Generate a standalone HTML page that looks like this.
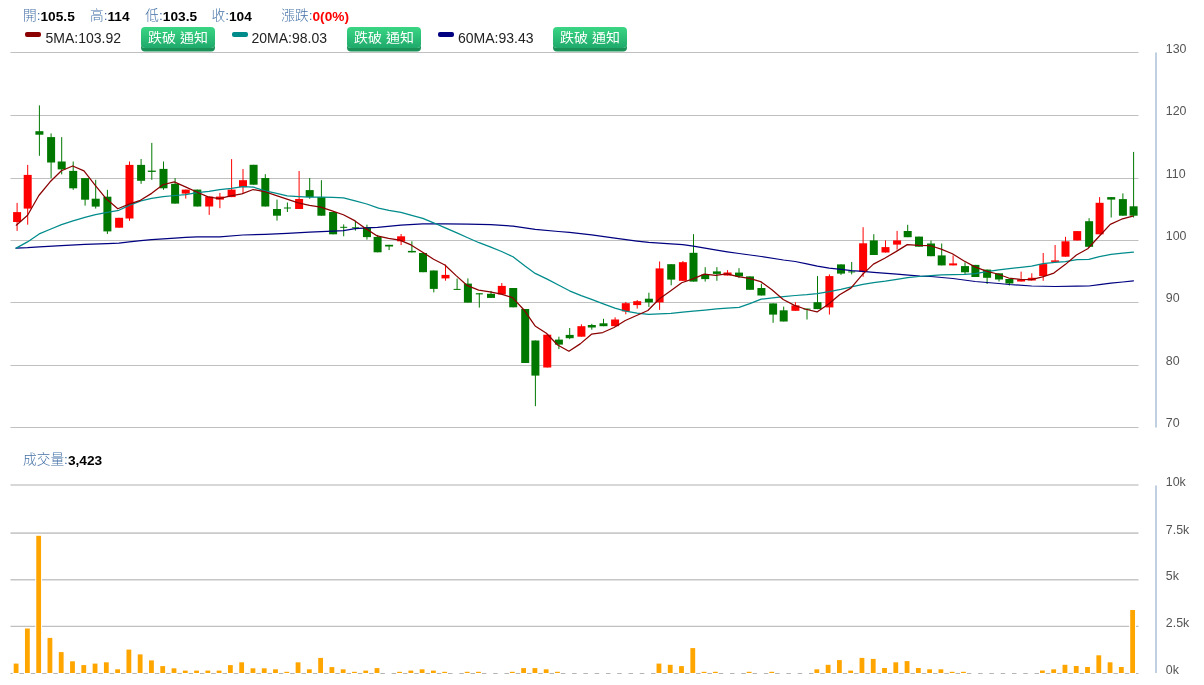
<!DOCTYPE html>
<html lang="zh-Hant">
<head>
<meta charset="utf-8">
<title>K線圖</title>
<style>
html,body{margin:0;padding:0;background:#fff;}
body{width:1204px;height:685px;position:relative;overflow:hidden;font-family:"Liberation Sans","Noto Sans CJK TC",sans-serif;}
.t{position:absolute;white-space:nowrap;line-height:1;}
.l1{font-size:13.7px;top:9.5px;color:#4572a7;font-weight:300;}
.l1 b{color:#000;font-weight:bold;}
.l1 b.r{color:#ff0000;}
.l2{font-size:14px;top:31px;color:#222;}
.sw{position:absolute;top:32px;width:16px;height:5px;border-radius:2px;}
.btn{position:absolute;top:27px;height:20.5px;width:74px;border-radius:4px;color:#fff;font-size:14px;line-height:21px;text-align:center;font-weight:400;
background:linear-gradient(#3ad684,#1fa96b);box-shadow:0 3.6px 0 #1b9158;}
.btn span{display:inline-block;transform:scaleY(0.9);transform-origin:50% 55%;}
.l1 i{font-style:normal;position:relative;top:-0.6px;}
</style>
</head>
<body>
<svg width="1204" height="685" viewBox="0 0 1204 685" style="position:absolute;left:0;top:0">
<path d="M10.5 52.5H1138.5" stroke="#c0c0c0" stroke-width="1" fill="none"/>
<path d="M10.5 115.5H1138.5" stroke="#c0c0c0" stroke-width="1" fill="none"/>
<path d="M10.5 178.5H1138.5" stroke="#c0c0c0" stroke-width="1" fill="none"/>
<path d="M10.5 240.5H1138.5" stroke="#c0c0c0" stroke-width="1" fill="none"/>
<path d="M10.5 302.5H1138.5" stroke="#c0c0c0" stroke-width="1" fill="none"/>
<path d="M10.5 365.5H1138.5" stroke="#c0c0c0" stroke-width="1" fill="none"/>
<path d="M10.5 427.5H1138.5" stroke="#c0c0c0" stroke-width="1" fill="none"/>
<path d="M10.5 485.0H1138.5" stroke="#cacaca" stroke-width="1.6" fill="none"/>
<path d="M10.5 533.1H1138.5" stroke="#cacaca" stroke-width="1.6" fill="none"/>
<path d="M10.5 579.7H1138.5" stroke="#c6c6c6" stroke-width="1.4" fill="none"/>
<path d="M10.5 626.4H1138.5" stroke="#c0c0c0" stroke-width="1.1" fill="none"/>
<path d="M10.5 673.5H1138.5" stroke="#b4b4b4" stroke-width="1" fill="none"/>
<path d="M1156 52.5V427.5" stroke="#c0d0e0" stroke-width="2" fill="none"/>
<path d="M1156 485.5V673" stroke="#c0d0e0" stroke-width="2" fill="none"/>
<g font-family="'Liberation Sans', Arial, sans-serif" font-size="12.4" fill="#555">
<text x="1165.8" y="52.80">130</text>
<text x="1165.8" y="115.15">120</text>
<text x="1165.8" y="177.50">110</text>
<text x="1165.8" y="239.85">100</text>
<text x="1165.8" y="302.20">90</text>
<text x="1165.8" y="364.55">80</text>
<text x="1165.8" y="426.90">70</text>
<text x="1165.8" y="486.4">10k</text>
<text x="1165.8" y="533.6">7.5k</text>
<text x="1165.8" y="579.7">5k</text>
<text x="1165.8" y="626.5">2.5k</text>
<text x="1165.8" y="673.5">0k</text>
</g>
<g fill="#fff">
<rect x="12.7" y="662.6" width="6.8" height="11.6"/>
<rect x="23.98" y="627.5" width="6.8" height="46.7"/>
<rect x="35.26" y="534.8" width="6.8" height="139.4"/>
<rect x="46.53" y="636.9" width="6.8" height="37.3"/>
<rect x="57.81" y="651.1" width="6.8" height="23.1"/>
<rect x="69.09" y="660.3" width="6.8" height="13.9"/>
<rect x="80.37" y="664.1" width="6.8" height="10.1"/>
<rect x="91.65" y="662.6" width="6.8" height="11.6"/>
<rect x="102.92" y="661.3" width="6.8" height="12.9"/>
<rect x="114.2" y="668.3" width="6.8" height="5.9"/>
<rect x="125.48" y="648.6" width="6.8" height="25.6"/>
<rect x="136.76" y="653.4" width="6.8" height="20.8"/>
<rect x="148.04" y="659.4" width="6.8" height="14.8"/>
<rect x="159.31" y="665.1" width="6.8" height="9.1"/>
<rect x="170.59" y="667.3" width="6.8" height="6.9"/>
<rect x="181.87" y="669.6" width="6.8" height="4.6"/>
<rect x="193.15" y="669.6" width="6.8" height="4.6"/>
<rect x="204.43" y="669.6" width="6.8" height="4.6"/>
<rect x="215.7" y="669.6" width="6.8" height="4.6"/>
<rect x="226.98" y="664.1" width="6.8" height="10.1"/>
<rect x="238.26" y="661.3" width="6.8" height="12.9"/>
<rect x="249.54" y="667.3" width="6.8" height="6.9"/>
<rect x="260.82" y="667.3" width="6.8" height="6.9"/>
<rect x="272.09" y="668.3" width="6.8" height="5.9"/>
<rect x="283.37" y="670.8" width="6.8" height="3.4"/>
<rect x="294.65" y="661.3" width="6.8" height="12.9"/>
<rect x="305.93" y="668.3" width="6.8" height="5.9"/>
<rect x="317.21" y="656.9" width="6.8" height="17.3"/>
<rect x="328.48" y="666.1" width="6.8" height="8.1"/>
<rect x="339.76" y="668.3" width="6.8" height="5.9"/>
<rect x="351.04" y="670.8" width="6.8" height="3.4"/>
<rect x="362.32" y="669.6" width="6.8" height="4.6"/>
<rect x="373.6" y="667.1" width="6.8" height="7.1"/>
<rect x="384.87" y="671" width="6.8" height="3.2"/>
<rect x="396.15" y="670.8" width="6.8" height="3.4"/>
<rect x="407.43" y="669.6" width="6.8" height="4.6"/>
<rect x="418.71" y="668.3" width="6.8" height="5.9"/>
<rect x="429.99" y="669.6" width="6.8" height="4.6"/>
<rect x="441.26" y="670.8" width="6.8" height="3.4"/>
<rect x="452.54" y="671" width="6.8" height="3.2"/>
<rect x="463.82" y="670.8" width="6.8" height="3.4"/>
<rect x="475.1" y="670.8" width="6.8" height="3.4"/>
<rect x="486.38" y="671" width="6.8" height="3.2"/>
<rect x="497.65" y="671" width="6.8" height="3.2"/>
<rect x="508.93" y="670.8" width="6.8" height="3.4"/>
<rect x="520.21" y="667.1" width="6.8" height="7.1"/>
<rect x="531.49" y="667.1" width="6.8" height="7.1"/>
<rect x="542.77" y="668.3" width="6.8" height="5.9"/>
<rect x="554.04" y="670.8" width="6.8" height="3.4"/>
<rect x="565.32" y="671" width="6.8" height="3.2"/>
<rect x="576.6" y="671" width="6.8" height="3.2"/>
<rect x="587.88" y="671" width="6.8" height="3.2"/>
<rect x="599.16" y="671" width="6.8" height="3.2"/>
<rect x="610.43" y="671" width="6.8" height="3.2"/>
<rect x="621.71" y="671" width="6.8" height="3.2"/>
<rect x="632.99" y="671" width="6.8" height="3.2"/>
<rect x="644.27" y="671" width="6.8" height="3.2"/>
<rect x="655.55" y="662.6" width="6.8" height="11.6"/>
<rect x="666.82" y="663.8" width="6.8" height="10.4"/>
<rect x="678.1" y="665.1" width="6.8" height="9.1"/>
<rect x="689.38" y="647.1" width="6.8" height="27.1"/>
<rect x="700.66" y="670.8" width="6.8" height="3.4"/>
<rect x="711.94" y="670.8" width="6.8" height="3.4"/>
<rect x="723.21" y="671" width="6.8" height="3.2"/>
<rect x="734.49" y="671" width="6.8" height="3.2"/>
<rect x="745.77" y="670.8" width="6.8" height="3.4"/>
<rect x="757.05" y="671" width="6.8" height="3.2"/>
<rect x="768.33" y="670.8" width="6.8" height="3.4"/>
<rect x="779.6" y="671" width="6.8" height="3.2"/>
<rect x="790.88" y="671" width="6.8" height="3.2"/>
<rect x="802.16" y="671" width="6.8" height="3.2"/>
<rect x="813.44" y="668.3" width="6.8" height="5.9"/>
<rect x="824.72" y="663.8" width="6.8" height="10.4"/>
<rect x="835.99" y="659.1" width="6.8" height="15.1"/>
<rect x="847.27" y="669.6" width="6.8" height="4.6"/>
<rect x="858.55" y="656.9" width="6.8" height="17.3"/>
<rect x="869.83" y="657.9" width="6.8" height="16.3"/>
<rect x="881.11" y="667" width="6.8" height="7.2"/>
<rect x="892.38" y="661.3" width="6.8" height="12.9"/>
<rect x="903.66" y="660.1" width="6.8" height="14.1"/>
<rect x="914.94" y="667" width="6.8" height="7.2"/>
<rect x="926.22" y="668.3" width="6.8" height="5.9"/>
<rect x="937.5" y="668.3" width="6.8" height="5.9"/>
<rect x="948.77" y="670.8" width="6.8" height="3.4"/>
<rect x="960.05" y="670.8" width="6.8" height="3.4"/>
<rect x="971.33" y="671" width="6.8" height="3.2"/>
<rect x="982.61" y="671" width="6.8" height="3.2"/>
<rect x="993.89" y="671" width="6.8" height="3.2"/>
<rect x="1005.16" y="671" width="6.8" height="3.2"/>
<rect x="1016.44" y="671" width="6.8" height="3.2"/>
<rect x="1027.72" y="671" width="6.8" height="3.2"/>
<rect x="1039" y="669.5" width="6.8" height="4.7"/>
<rect x="1050.28" y="668.3" width="6.8" height="5.9"/>
<rect x="1061.55" y="663.8" width="6.8" height="10.4"/>
<rect x="1072.83" y="665" width="6.8" height="9.2"/>
<rect x="1084.11" y="666" width="6.8" height="8.2"/>
<rect x="1095.39" y="654.3" width="6.8" height="19.9"/>
<rect x="1106.67" y="661.3" width="6.8" height="12.9"/>
<rect x="1117.94" y="666" width="6.8" height="8.2"/>
<rect x="1129.22" y="609" width="6.8" height="65.2"/>
</g>
<g fill="#ffa500">
<rect x="13.7" y="663.6" width="4.8" height="9.4"/>
<rect x="24.98" y="628.5" width="4.8" height="44.5"/>
<rect x="36.26" y="535.8" width="4.8" height="137.2"/>
<rect x="47.53" y="637.9" width="4.8" height="35.1"/>
<rect x="58.81" y="652.1" width="4.8" height="20.9"/>
<rect x="70.09" y="661.3" width="4.8" height="11.7"/>
<rect x="81.37" y="665.1" width="4.8" height="7.9"/>
<rect x="92.65" y="663.6" width="4.8" height="9.4"/>
<rect x="103.92" y="662.3" width="4.8" height="10.7"/>
<rect x="115.2" y="669.3" width="4.8" height="3.7"/>
<rect x="126.48" y="649.6" width="4.8" height="23.4"/>
<rect x="137.76" y="654.4" width="4.8" height="18.6"/>
<rect x="149.04" y="660.4" width="4.8" height="12.6"/>
<rect x="160.31" y="666.1" width="4.8" height="6.9"/>
<rect x="171.59" y="668.3" width="4.8" height="4.7"/>
<rect x="182.87" y="670.6" width="4.8" height="2.4"/>
<rect x="194.15" y="670.6" width="4.8" height="2.4"/>
<rect x="205.43" y="670.6" width="4.8" height="2.4"/>
<rect x="216.7" y="670.6" width="4.8" height="2.4"/>
<rect x="227.98" y="665.1" width="4.8" height="7.9"/>
<rect x="239.26" y="662.3" width="4.8" height="10.7"/>
<rect x="250.54" y="668.3" width="4.8" height="4.7"/>
<rect x="261.82" y="668.3" width="4.8" height="4.7"/>
<rect x="273.09" y="669.3" width="4.8" height="3.7"/>
<rect x="284.37" y="671.8" width="4.8" height="1.2"/>
<rect x="295.65" y="662.3" width="4.8" height="10.7"/>
<rect x="306.93" y="669.3" width="4.8" height="3.7"/>
<rect x="318.21" y="657.9" width="4.8" height="15.1"/>
<rect x="329.48" y="667.1" width="4.8" height="5.9"/>
<rect x="340.76" y="669.3" width="4.8" height="3.7"/>
<rect x="352.04" y="671.8" width="4.8" height="1.2"/>
<rect x="363.32" y="670.6" width="4.8" height="2.4"/>
<rect x="374.6" y="668.1" width="4.8" height="4.9"/>
<rect x="397.15" y="671.8" width="4.8" height="1.2"/>
<rect x="408.43" y="670.6" width="4.8" height="2.4"/>
<rect x="419.71" y="669.3" width="4.8" height="3.7"/>
<rect x="430.99" y="670.6" width="4.8" height="2.4"/>
<rect x="442.26" y="671.8" width="4.8" height="1.2"/>
<rect x="464.82" y="671.8" width="4.8" height="1.2"/>
<rect x="476.1" y="671.8" width="4.8" height="1.2"/>
<rect x="509.93" y="671.8" width="4.8" height="1.2"/>
<rect x="521.21" y="668.1" width="4.8" height="4.9"/>
<rect x="532.49" y="668.1" width="4.8" height="4.9"/>
<rect x="543.77" y="669.3" width="4.8" height="3.7"/>
<rect x="555.04" y="671.8" width="4.8" height="1.2"/>
<rect x="656.55" y="663.6" width="4.8" height="9.4"/>
<rect x="667.82" y="664.8" width="4.8" height="8.2"/>
<rect x="679.1" y="666.1" width="4.8" height="6.9"/>
<rect x="690.38" y="648.1" width="4.8" height="24.9"/>
<rect x="701.66" y="671.8" width="4.8" height="1.2"/>
<rect x="712.94" y="671.8" width="4.8" height="1.2"/>
<rect x="746.77" y="671.8" width="4.8" height="1.2"/>
<rect x="769.33" y="671.8" width="4.8" height="1.2"/>
<rect x="814.44" y="669.3" width="4.8" height="3.7"/>
<rect x="825.72" y="664.8" width="4.8" height="8.2"/>
<rect x="836.99" y="660.1" width="4.8" height="12.9"/>
<rect x="848.27" y="670.6" width="4.8" height="2.4"/>
<rect x="859.55" y="657.9" width="4.8" height="15.1"/>
<rect x="870.83" y="658.9" width="4.8" height="14.1"/>
<rect x="882.11" y="668" width="4.8" height="5"/>
<rect x="893.38" y="662.3" width="4.8" height="10.7"/>
<rect x="904.66" y="661.1" width="4.8" height="11.9"/>
<rect x="915.94" y="668" width="4.8" height="5"/>
<rect x="927.22" y="669.3" width="4.8" height="3.7"/>
<rect x="938.5" y="669.3" width="4.8" height="3.7"/>
<rect x="949.77" y="671.8" width="4.8" height="1.2"/>
<rect x="961.05" y="671.8" width="4.8" height="1.2"/>
<rect x="1040" y="670.5" width="4.8" height="2.5"/>
<rect x="1051.28" y="669.3" width="4.8" height="3.7"/>
<rect x="1062.55" y="664.8" width="4.8" height="8.2"/>
<rect x="1073.83" y="666" width="4.8" height="7"/>
<rect x="1085.11" y="667" width="4.8" height="6"/>
<rect x="1096.39" y="655.3" width="4.8" height="17.7"/>
<rect x="1107.67" y="662.3" width="4.8" height="10.7"/>
<rect x="1118.94" y="667" width="4.8" height="6"/>
<rect x="1130.22" y="610" width="4.8" height="63"/>
</g>
<path d="M17.099999999999998 202.9V230.9" stroke="#ff0000" stroke-width="1" fill="none"/>
<rect x="13.1" y="212.1" width="8" height="9.9" fill="#ff0000"/>
<path d="M27.7 164.9V224.7" stroke="#ff0000" stroke-width="1" fill="none"/>
<rect x="23.7" y="174.9" width="8" height="33.7" fill="#ff0000"/>
<path d="M39.400000000000006 105.4V155.8" stroke="#007800" stroke-width="1" fill="none"/>
<rect x="35.4" y="131.2" width="8" height="3.5" fill="#007800"/>
<path d="M51.1 133.4V178.1" stroke="#007800" stroke-width="1" fill="none"/>
<rect x="47.1" y="137.1" width="8" height="25.4" fill="#007800"/>
<path d="M61.7 137.1V174.4" stroke="#007800" stroke-width="1" fill="none"/>
<rect x="57.7" y="161.5" width="8" height="7.9" fill="#007800"/>
<path d="M73.2 161.5V189.8" stroke="#007800" stroke-width="1" fill="none"/>
<rect x="69.2" y="170.9" width="8" height="17.4" fill="#007800"/>
<path d="M85.10000000000001 178.1V205.6" stroke="#007800" stroke-width="1" fill="none"/>
<rect x="81.1" y="178.1" width="8" height="21.6" fill="#007800"/>
<path d="M95.7 179.8V208.6" stroke="#007800" stroke-width="1" fill="none"/>
<rect x="91.7" y="198.7" width="8" height="7.9" fill="#007800"/>
<path d="M107.4 189.8V233.9" stroke="#007800" stroke-width="1" fill="none"/>
<rect x="103.4" y="196.7" width="8" height="34.7" fill="#007800"/>
<path d="M119.10000000000001 217.8V227.7" stroke="#ff0000" stroke-width="1" fill="none"/>
<rect x="115.1" y="217.8" width="8" height="9.9" fill="#ff0000"/>
<path d="M129.5 161.5V220.8" stroke="#ff0000" stroke-width="1" fill="none"/>
<rect x="125.5" y="164.9" width="8" height="53.6" fill="#ff0000"/>
<path d="M141.1 159V183.8" stroke="#007800" stroke-width="1" fill="none"/>
<rect x="137.1" y="164.9" width="8" height="15.9" fill="#007800"/>
<path d="M151.79999999999998 142.9V179.8" stroke="#007800" stroke-width="1" fill="none"/>
<rect x="147.8" y="170.6" width="8" height="1.3" fill="#007800"/>
<path d="M163.5 161.5V189.8" stroke="#007800" stroke-width="1" fill="none"/>
<rect x="159.5" y="168.9" width="8" height="19.4" fill="#007800"/>
<path d="M175.1 178.1V203.6" stroke="#007800" stroke-width="1" fill="none"/>
<rect x="171.1" y="183.8" width="8" height="19.8" fill="#007800"/>
<path d="M185.75 189.6V198.6" stroke="#ff0000" stroke-width="1" fill="none"/>
<rect x="181.75" y="189.6" width="8" height="4" fill="#ff0000"/>
<path d="M197.29999999999998 189.6V206.5" stroke="#007800" stroke-width="1" fill="none"/>
<rect x="193.3" y="189.6" width="8" height="16.9" fill="#007800"/>
<path d="M209.2 196.6V214.9" stroke="#ff0000" stroke-width="1" fill="none"/>
<rect x="205.2" y="196.6" width="8" height="9.9" fill="#ff0000"/>
<path d="M219.89999999999998 192.9V208.2" stroke="#ff0000" stroke-width="1" fill="none"/>
<rect x="215.9" y="196.6" width="8" height="3" fill="#ff0000"/>
<path d="M231.6 159.1V197.1" stroke="#ff0000" stroke-width="1" fill="none"/>
<rect x="227.6" y="189.6" width="8" height="7.5" fill="#ff0000"/>
<path d="M243.0 169V192.9" stroke="#ff0000" stroke-width="1" fill="none"/>
<rect x="239" y="180.2" width="8" height="6.9" fill="#ff0000"/>
<path d="M253.6 164.8V184.7" stroke="#007800" stroke-width="1" fill="none"/>
<rect x="249.6" y="164.8" width="8" height="19.9" fill="#007800"/>
<path d="M265.3 174.2V206.5" stroke="#007800" stroke-width="1" fill="none"/>
<rect x="261.3" y="178" width="8" height="28.5" fill="#007800"/>
<path d="M277.0 199.6V220.6" stroke="#007800" stroke-width="1" fill="none"/>
<rect x="273" y="209" width="8" height="6.7" fill="#007800"/>
<path d="M287.4 202.5V212" stroke="#007800" stroke-width="1" fill="none"/>
<rect x="283.9" y="207.5" width="7" height="1" fill="#007800"/>
<path d="M299.09999999999997 171V209" stroke="#ff0000" stroke-width="1" fill="none"/>
<rect x="295.1" y="199" width="8" height="10" fill="#ff0000"/>
<path d="M309.7 178V198.8" stroke="#007800" stroke-width="1" fill="none"/>
<rect x="305.7" y="190.1" width="8" height="7" fill="#007800"/>
<path d="M321.4 180.2V215.7" stroke="#007800" stroke-width="1" fill="none"/>
<rect x="317.4" y="197.1" width="8" height="18.6" fill="#007800"/>
<path d="M333.09999999999997 212V234.3" stroke="#007800" stroke-width="1" fill="none"/>
<rect x="329.1" y="212" width="8" height="22.3" fill="#007800"/>
<path d="M343.7 224.4V236.3" stroke="#007800" stroke-width="1" fill="none"/>
<rect x="340.2" y="226.8" width="7" height="1" fill="#007800"/>
<path d="M355.4 220.6V230.6" stroke="#007800" stroke-width="1" fill="none"/>
<rect x="351.9" y="227.3" width="7" height="1" fill="#007800"/>
<path d="M366.95 224.7V239.6" stroke="#007800" stroke-width="1" fill="none"/>
<rect x="362.95" y="227.3" width="8" height="9.8" fill="#007800"/>
<path d="M377.59999999999997 234.9V252.3" stroke="#007800" stroke-width="1" fill="none"/>
<rect x="373.6" y="236.9" width="8" height="15.4" fill="#007800"/>
<path d="M389.09999999999997 244.8V250" stroke="#007800" stroke-width="1" fill="none"/>
<rect x="385.1" y="244.8" width="8" height="1.7" fill="#007800"/>
<path d="M401.09999999999997 234V245.1" stroke="#ff0000" stroke-width="1" fill="none"/>
<rect x="397.1" y="236.3" width="8" height="5" fill="#ff0000"/>
<path d="M411.9 241.3V252.4" stroke="#007800" stroke-width="1" fill="none"/>
<rect x="407.9" y="250.9" width="8" height="1.5" fill="#007800"/>
<path d="M423.0 253V272.2" stroke="#007800" stroke-width="1" fill="none"/>
<rect x="419" y="253" width="8" height="19.2" fill="#007800"/>
<path d="M433.8 270.5V292.4" stroke="#007800" stroke-width="1" fill="none"/>
<rect x="429.8" y="270.5" width="8" height="18.4" fill="#007800"/>
<path d="M445.5 264.6V280.7" stroke="#ff0000" stroke-width="1" fill="none"/>
<rect x="441.5" y="274.9" width="8" height="3.5" fill="#ff0000"/>
<path d="M457.09999999999997 278.6V289.7" stroke="#007800" stroke-width="1" fill="none"/>
<rect x="453.6" y="288.9" width="7" height="1" fill="#007800"/>
<path d="M467.9 278.4V302.6" stroke="#007800" stroke-width="1" fill="none"/>
<rect x="463.9" y="283.6" width="8" height="19" fill="#007800"/>
<path d="M479.3 293.2V307.6" stroke="#007800" stroke-width="1" fill="none"/>
<rect x="475.8" y="293.2" width="7" height="1.2" fill="#007800"/>
<path d="M491.0 290.9V297.9" stroke="#007800" stroke-width="1" fill="none"/>
<rect x="487" y="293.8" width="8" height="4.1" fill="#007800"/>
<path d="M501.8 283V294.4" stroke="#ff0000" stroke-width="1" fill="none"/>
<rect x="497.8" y="285.9" width="8" height="8.5" fill="#ff0000"/>
<path d="M513.2 288V307.3" stroke="#007800" stroke-width="1" fill="none"/>
<rect x="509.2" y="288" width="8" height="19.3" fill="#007800"/>
<path d="M525.2 309V363" stroke="#007800" stroke-width="1" fill="none"/>
<rect x="521.2" y="309" width="8" height="54" fill="#007800"/>
<path d="M535.4000000000001 340.5V406.2" stroke="#007800" stroke-width="1" fill="none"/>
<rect x="531.4" y="340.5" width="8" height="35.1" fill="#007800"/>
<path d="M547.25 334.7V367.5" stroke="#ff0000" stroke-width="1" fill="none"/>
<rect x="543.25" y="334.7" width="8" height="32.8" fill="#ff0000"/>
<path d="M558.9000000000001 336.7V349.1" stroke="#007800" stroke-width="1" fill="none"/>
<rect x="554.9" y="339.6" width="8" height="5" fill="#007800"/>
<path d="M569.7 328V339.1" stroke="#007800" stroke-width="1" fill="none"/>
<rect x="565.7" y="334.9" width="8" height="3.3" fill="#007800"/>
<path d="M581.4000000000001 324.3V336.7" stroke="#ff0000" stroke-width="1" fill="none"/>
<rect x="577.4" y="326.2" width="8" height="10.5" fill="#ff0000"/>
<path d="M591.8000000000001 323.8V329.7" stroke="#007800" stroke-width="1" fill="none"/>
<rect x="587.8" y="325" width="8" height="2.5" fill="#007800"/>
<path d="M603.5 318.8V326.2" stroke="#007800" stroke-width="1" fill="none"/>
<rect x="599.5" y="323.3" width="8" height="2.9" fill="#007800"/>
<path d="M615.1 317.3V326.2" stroke="#ff0000" stroke-width="1" fill="none"/>
<rect x="611.1" y="319.5" width="8" height="6.7" fill="#ff0000"/>
<path d="M625.8000000000001 301.9V314.3" stroke="#ff0000" stroke-width="1" fill="none"/>
<rect x="621.8" y="303.2" width="8" height="8.2" fill="#ff0000"/>
<path d="M637.2 300V308.6" stroke="#ff0000" stroke-width="1" fill="none"/>
<rect x="633.2" y="301.2" width="8" height="3.9" fill="#ff0000"/>
<path d="M648.9000000000001 292.7V306.9" stroke="#007800" stroke-width="1" fill="none"/>
<rect x="644.9" y="298.7" width="8" height="3.7" fill="#007800"/>
<path d="M659.6 261.5V309.9" stroke="#ff0000" stroke-width="1" fill="none"/>
<rect x="655.6" y="268.4" width="8" height="34" fill="#ff0000"/>
<path d="M671.2 264.2V285.3" stroke="#007800" stroke-width="1" fill="none"/>
<rect x="667.2" y="264.2" width="8" height="15.4" fill="#007800"/>
<path d="M682.9000000000001 261V280.8" stroke="#ff0000" stroke-width="1" fill="none"/>
<rect x="678.9" y="262.2" width="8" height="18.6" fill="#ff0000"/>
<path d="M693.5 234.2V281.6" stroke="#007800" stroke-width="1" fill="none"/>
<rect x="689.5" y="252.8" width="8" height="28.8" fill="#007800"/>
<path d="M705.2 267.2V281.6" stroke="#007800" stroke-width="1" fill="none"/>
<rect x="701.2" y="274.6" width="8" height="4.5" fill="#007800"/>
<path d="M716.9000000000001 267.2V280.8" stroke="#007800" stroke-width="1" fill="none"/>
<rect x="712.9" y="271.4" width="8" height="2.5" fill="#007800"/>
<path d="M727.5500000000001 270.1V275.5" stroke="#ff0000" stroke-width="1" fill="none"/>
<rect x="723.55" y="272.5" width="8" height="3" fill="#ff0000"/>
<path d="M739.0 268.2V278.1" stroke="#007800" stroke-width="1" fill="none"/>
<rect x="735" y="272.6" width="8" height="3.8" fill="#007800"/>
<path d="M750.0 276.4V289.8" stroke="#007800" stroke-width="1" fill="none"/>
<rect x="746" y="276.4" width="8" height="13.4" fill="#007800"/>
<path d="M761.4000000000001 283.8V295.5" stroke="#007800" stroke-width="1" fill="none"/>
<rect x="757.4" y="288" width="8" height="7.5" fill="#007800"/>
<path d="M773.1 303.4V322.8" stroke="#007800" stroke-width="1" fill="none"/>
<rect x="769.1" y="303.4" width="8" height="11.2" fill="#007800"/>
<path d="M783.7 306.6V321.5" stroke="#007800" stroke-width="1" fill="none"/>
<rect x="779.7" y="310.3" width="8" height="11.2" fill="#007800"/>
<path d="M795.4000000000001 302.2V310.8" stroke="#ff0000" stroke-width="1" fill="none"/>
<rect x="791.4" y="305.4" width="8" height="5.4" fill="#ff0000"/>
<path d="M807.0 308.6V319.5" stroke="#007800" stroke-width="1" fill="none"/>
<rect x="803.5" y="308.6" width="7" height="1" fill="#007800"/>
<path d="M817.5 276.1V309.1" stroke="#007800" stroke-width="1" fill="none"/>
<rect x="813.5" y="302.2" width="8" height="6.9" fill="#007800"/>
<path d="M829.4000000000001 274.4V314.6" stroke="#ff0000" stroke-width="1" fill="none"/>
<rect x="825.4" y="276.1" width="8" height="31.3" fill="#ff0000"/>
<path d="M841.0 264.4V274.9" stroke="#007800" stroke-width="1" fill="none"/>
<rect x="837" y="264.4" width="8" height="9.2" fill="#007800"/>
<path d="M851.7 262V274.4" stroke="#007800" stroke-width="1" fill="none"/>
<rect x="848.2" y="271.4" width="7" height="1" fill="#007800"/>
<path d="M863.1 227.2V276.8" stroke="#ff0000" stroke-width="1" fill="none"/>
<rect x="859.1" y="243.3" width="8" height="28.6" fill="#ff0000"/>
<path d="M873.8000000000001 234.2V255" stroke="#007800" stroke-width="1" fill="none"/>
<rect x="869.8" y="240.4" width="8" height="14.6" fill="#007800"/>
<path d="M885.5 240.4V252.5" stroke="#ff0000" stroke-width="1" fill="none"/>
<rect x="881.5" y="247.1" width="8" height="5.4" fill="#ff0000"/>
<path d="M897.1 230.9V249.6" stroke="#ff0000" stroke-width="1" fill="none"/>
<rect x="893.1" y="240.4" width="8" height="4.2" fill="#ff0000"/>
<path d="M907.7 224.8V237.2" stroke="#007800" stroke-width="1" fill="none"/>
<rect x="903.7" y="231" width="8" height="6.2" fill="#007800"/>
<path d="M919.0 236.6V246.7" stroke="#007800" stroke-width="1" fill="none"/>
<rect x="915" y="236.6" width="8" height="10.1" fill="#007800"/>
<path d="M931.0 240.5V256.2" stroke="#007800" stroke-width="1" fill="none"/>
<rect x="927" y="243.5" width="8" height="12.7" fill="#007800"/>
<path d="M941.7 243.5V265.4" stroke="#007800" stroke-width="1" fill="none"/>
<rect x="937.7" y="255.4" width="8" height="10" fill="#007800"/>
<path d="M953.1 255.4V265.4" stroke="#ff0000" stroke-width="1" fill="none"/>
<rect x="949.1" y="263.4" width="8" height="2" fill="#ff0000"/>
<path d="M965.0 262.4V274.1" stroke="#007800" stroke-width="1" fill="none"/>
<rect x="961" y="266.1" width="8" height="6.2" fill="#007800"/>
<path d="M975.4000000000001 264.9V277" stroke="#007800" stroke-width="1" fill="none"/>
<rect x="971.4" y="264.9" width="8" height="12.1" fill="#007800"/>
<path d="M987.1 269.6V284" stroke="#007800" stroke-width="1" fill="none"/>
<rect x="983.1" y="269.6" width="8" height="8.2" fill="#007800"/>
<path d="M999.0 273.3V281.5" stroke="#007800" stroke-width="1" fill="none"/>
<rect x="995" y="273.3" width="8" height="6.2" fill="#007800"/>
<path d="M1009.4000000000001 279V285.5" stroke="#007800" stroke-width="1" fill="none"/>
<rect x="1005.4" y="279" width="8" height="4.5" fill="#007800"/>
<path d="M1021.1 271.6V281.5" stroke="#ff0000" stroke-width="1" fill="none"/>
<rect x="1017.1" y="279.5" width="8" height="2" fill="#ff0000"/>
<path d="M1031.8 273.3V280.5" stroke="#ff0000" stroke-width="1" fill="none"/>
<rect x="1027.8" y="277.8" width="8" height="2.7" fill="#ff0000"/>
<path d="M1043.2 253V280.8" stroke="#ff0000" stroke-width="1" fill="none"/>
<rect x="1039.2" y="264.1" width="8" height="11.9" fill="#ff0000"/>
<path d="M1055.1000000000001 245V261.9" stroke="#ff0000" stroke-width="1" fill="none"/>
<rect x="1051.1" y="260.4" width="8" height="1.5" fill="#ff0000"/>
<path d="M1065.5 236.8V256.7" stroke="#ff0000" stroke-width="1" fill="none"/>
<rect x="1061.5" y="241.3" width="8" height="15.4" fill="#ff0000"/>
<path d="M1077.2 231.1V240.5" stroke="#ff0000" stroke-width="1" fill="none"/>
<rect x="1073.2" y="231.1" width="8" height="9.4" fill="#ff0000"/>
<path d="M1089.1000000000001 218.2V246.8" stroke="#007800" stroke-width="1" fill="none"/>
<rect x="1085.1" y="221.2" width="8" height="25.6" fill="#007800"/>
<path d="M1099.6000000000001 197.1V234.3" stroke="#ff0000" stroke-width="1" fill="none"/>
<rect x="1095.6" y="202.8" width="8" height="31.5" fill="#ff0000"/>
<path d="M1111.2 197.1V217.5" stroke="#007800" stroke-width="1" fill="none"/>
<rect x="1107.2" y="197.1" width="8" height="2.5" fill="#007800"/>
<path d="M1122.9 193.4V215.7" stroke="#007800" stroke-width="1" fill="none"/>
<rect x="1118.9" y="199.1" width="8" height="16.6" fill="#007800"/>
<path d="M1133.6000000000001 151.9V217.5" stroke="#007800" stroke-width="1" fill="none"/>
<rect x="1129.6" y="206.3" width="8" height="9.4" fill="#007800"/>
<path d="M16.1 248.1 L27.5 247.6 L39.2 246.8 L61.5 245.6 L84.9 244.3 L107.2 243.6 L118.9 243.1 L129.3 241.9 L140.9 240.6 L151.6 239.6 L163.3 238.9 L174.9 238.1 L185.6 237.4 L197.3 236.9 L219.7 236.8 L242.8 235 L265.1 234.3 L287.2 233.3 L309.5 232.1 L332.9 231.1 L343.5 230.6 L355.2 228.6 L366.8 227.8 L377.5 227.3 L400.9 225.2 L422.8 223.8 L445.3 223.9 L467.7 224.1 L490.8 224.6 L513 226.1 L535.2 229.4 L558.5 231.5 L569.5 232.4 L591.6 234.9 L614.9 238.2 L637 241.1 L648.7 242.4 L671 243.9 L682.7 244.6 L693.3 246.1 L705 248.1 L716.7 250.1 L727.3 251.8 L739.1 253.5 L761.2 256.5 L783.5 260 L795.2 261.5 L806.8 263.9 L817.3 266.2 L829.2 268.2 L840.8 269.4 L851.5 270.6 L862.9 271.4 L873.6 272.4 L896.9 274.2 L920 276.1 L930.8 276.5 L952.9 278.5 L975.2 281.5 L998.8 283.5 L1009.2 284.5 L1031.6 286 L1054.9 286.5 L1077 286.2 L1088.9 286 L1099.4 284.7 L1111 283.2 L1122.7 282 L1133.4 280.8" stroke="#000080" stroke-width="1.25" fill="none" stroke-linejoin="round" stroke-linecap="round"/>
<path d="M16.1 248.1 L27.5 241.9 L39.2 233.9 L50.9 229 L61.5 224.7 L73 220.8 L84.9 217.3 L95.5 214.6 L107.2 212.3 L118.9 210.3 L129.3 205.4 L140.9 200.9 L151.6 198.4 L163.3 196.7 L174.9 195.5 L185.6 194.7 L197.1 192.6 L209 191.4 L219.7 189.6 L231.4 188.4 L242.8 186.7 L253.4 187.1 L265.1 190.9 L276.8 193.3 L287.2 195.8 L298.9 196.6 L309.5 197.1 L321.2 197.1 L332.9 197.3 L343.5 197.8 L355.2 200.8 L366.8 204 L378.5 208.2 L388.9 210.3 L400.9 212.3 L411.7 215.4 L422.8 218.4 L433.6 222.8 L445.3 227.9 L456.9 232.9 L467.7 237.8 L479.1 242.7 L490.8 247.1 L501.6 251.5 L513 256.8 L525 266.1 L535.2 273.4 L547.2 279.1 L558.9 285.3 L569.5 290.8 L581.2 295.7 L591.6 299.4 L603.3 303.9 L614.9 308.1 L625.6 311.1 L637 313.1 L648.7 314.3 L659.4 313.8 L671 313.3 L682.7 312.1 L693.3 311.1 L705 310.1 L716.7 308.9 L727.3 308.1 L739.1 307.4 L749.8 303.6 L761.2 299.2 L772.9 297.9 L783.5 296.7 L795.2 295.5 L806.8 294.7 L817.3 293.7 L829.2 291.7 L840.8 289.3 L851.5 286.8 L862.9 284.3 L873.6 282.6 L885.3 281.1 L896.9 279.3 L907.6 277.6 L919.1 276.5 L930.8 275.6 L941.5 274.8 L952.9 274.6 L964.8 274.3 L975.2 273.6 L986.9 271.6 L998.8 269.8 L1009.2 268.6 L1020.9 267.4 L1031.6 266.1 L1043 263.6 L1054.9 262.4 L1065.3 261.6 L1077 259.7 L1088.9 259.4 L1099.4 256.7 L1111 254.4 L1122.7 253.2 L1133.4 252.2" stroke="#008b8b" stroke-width="1.25" fill="none" stroke-linejoin="round" stroke-linecap="round"/>
<path d="M16.3 225.2 L27.58 215.3 L38.86 195.5 L50.13 181.8 L61.41 170.72 L72.69 165.96 L83.97 170.92 L95.25 185.3 L106.52 199.08 L117.8 208.76 L129.08 204.08 L140.36 200.3 L151.64 193.36 L162.91 184.74 L174.19 181.9 L185.47 186.84 L196.75 191.98 L208.03 196.92 L219.3 198.58 L230.58 195.78 L241.86 193.9 L253.14 189.54 L264.42 191.52 L275.69 195.34 L286.97 199.12 L298.25 202.88 L309.53 205.36 L320.81 207.2 L332.08 210.92 L343.36 214.78 L354.64 220.64 L365.92 228.64 L377.2 235.96 L388.47 238.4 L399.75 240.1 L411.03 244.92 L422.31 251.94 L433.59 259.26 L444.86 264.94 L456.14 275.62 L467.42 285.66 L478.7 290.1 L489.98 291.9 L501.25 294.1 L512.53 297.62 L523.81 309.7 L535.09 325.94 L546.37 333.3 L557.64 345.04 L568.92 351.22 L580.2 343.86 L591.48 334.24 L602.76 332.54 L614.03 327.52 L625.31 320.52 L636.59 315.52 L647.87 310.5 L659.15 298.94 L670.42 290.96 L681.7 282.76 L692.98 278.84 L704.26 274.18 L715.54 275.28 L726.81 273.86 L738.09 276.7 L749.37 278.34 L760.65 281.62 L771.93 289.76 L783.2 299.56 L794.48 305.36 L805.76 309.26 L817.04 311.98 L828.32 304.28 L839.59 294.7 L850.87 288.1 L862.15 274.9 L873.43 264.08 L884.71 258.28 L895.98 251.64 L907.26 244.6 L918.54 245.28 L929.82 245.52 L941.1 249.18 L952.37 253.78 L963.65 260.8 L974.93 266.86 L986.21 271.18 L997.49 274 L1008.76 278.02 L1020.04 279.46 L1031.32 279.62 L1042.6 276.88 L1053.88 273.06 L1065.15 264.62 L1076.43 254.94 L1087.71 248.74 L1098.99 236.48 L1110.27 224.32 L1121.54 219.2 L1132.82 216.12" stroke="#8b0000" stroke-width="1.25" fill="none" stroke-linejoin="round" stroke-linecap="round"/>
</svg>
<div class="t l1" style="left:23px"><i>開:</i><b>105.5</b></div>
<div class="t l1" style="left:90px"><i>高:</i><b>114</b></div>
<div class="t l1" style="left:145.3px"><i>低:</i><b>103.5</b></div>
<div class="t l1" style="left:211.5px"><i>收:</i><b>104</b></div>
<div class="t l1" style="left:281.3px"><i>漲跌:</i><b class="r">0(0%)</b></div>
<div class="sw" style="left:24.5px;background:#8b0000"></div>
<div class="t l2" style="left:45.5px">5MA:103.92</div>
<div class="btn" style="left:141px"><span>跌破 通知</span></div>
<div class="sw" style="left:231.5px;background:#008b8b"></div>
<div class="t l2" style="left:251.5px">20MA:98.03</div>
<div class="btn" style="left:347px"><span>跌破 通知</span></div>
<div class="sw" style="left:437.5px;background:#000080"></div>
<div class="t l2" style="left:458px">60MA:93.43</div>
<div class="btn" style="left:553px"><span>跌破 通知</span></div>
<div class="t l1" style="left:23px;top:454px"><i>成交量:</i><b>3,423</b></div>
</body>
</html>
